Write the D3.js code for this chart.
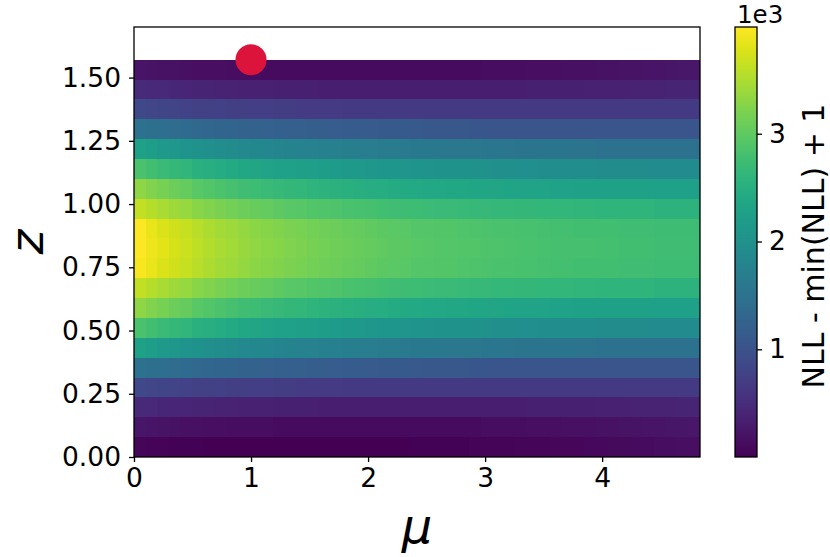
<!DOCTYPE html>
<html><head><meta charset="utf-8">
<script src="https://cdn.jsdelivr.net/npm/d3@7"></script>
<style>body{margin:0;background:#fff}svg{display:block}</style>
</head><body>
<svg id="chart" width="830" height="557"></svg>
<script>
// ---- data ----
const muMax = 4.836;            // right edge of the mu grid
const zMax = Math.PI / 2;       // top edge of the z grid
const nMu = 49;                 // number of mu bins
const nZ = 20;                  // number of z bins
const xTickValues = [0, 1, 2, 3, 4];
const yTickValues = [0, 0.25, 0.5, 0.75, 1.0, 1.25, 1.5];
const cbarTickValues = [1000, 2000, 3000];
const cbarMin = 1, cbarMax = 3990;
const truthMu = 1.0, truthZ = Math.PI / 2;

// NLL - min(NLL) + 1, one array per z bin (bottom to top), 49 mu bins each
const z00 = [48,40,33,27,22,17,13,10,7,5,3,2,1,1,1,2,3,4,5,7,9,11,13,15,18,21,24,27,30,34,38,42,46,51,56,61,66,72,78,84,90,97,104,111,118,126,134,142,150];
const z01 = [220,205,192,180,170,161,153,146,140,135,131,127,124,121,119,117,115,114,113,112,112,112,112,113,114,115,117,119,121,124,127,130,134,138,142,147,152,157,163,169,175,182,189,196,204,212,220,229,238];
const z02 = [460,445,432,420,410,400,392,385,378,372,366,361,356,352,348,345,342,339,337,335,333,332,331,330,330,330,330,331,332,333,335,337,339,341,344,347,350,353,356,359,363,367,371,375,379,383,388,393,398];
const z03 = [860,840,820,805,790,775,765,755,745,735,728,720,713,707,702,697,692,688,684,680,677,674,671,668,666,664,662,660,659,658,657,656,656,656,657,658,659,660,662,664,666,668,670,672,674,676,678,680,682];
const z04 = [1500,1460,1430,1400,1380,1340,1320,1290,1280,1260,1240,1230,1210,1200,1190,1180,1170,1160,1150,1140,1130,1120,1110,1110,1100,1090,1090,1080,1080,1070,1070,1060,1060,1050,1050,1050,1040,1040,1040,1040,1030,1030,1030,1030,1030,1030,1030,1030,1030];
const z05 = [2280,2210,2160,2110,2070,2020,1980,1940,1920,1880,1860,1830,1810,1790,1770,1750,1730,1720,1700,1680,1670,1650,1640,1630,1610,1610,1600,1590,1580,1580,1570,1560,1550,1540,1540,1540,1530,1530,1520,1520,1510,1510,1500,1500,1500,1500,1500,1500,1500];
const z06 = [2850,2780,2710,2660,2610,2540,2500,2450,2420,2380,2350,2320,2290,2260,2240,2220,2200,2180,2160,2140,2120,2100,2090,2080,2060,2050,2040,2030,2020,2010,2000,1990,1980,1970,1970,1960,1950,1950,1940,1940,1930,1930,1920,1920,1920,1910,1910,1910,1910];
const z07 = [3310,3230,3150,3090,3040,2960,2910,2860,2820,2770,2740,2710,2680,2640,2620,2590,2570,2550,2530,2510,2490,2470,2440,2430,2410,2400,2390,2380,2370,2360,2350,2340,2330,2320,2320,2310,2300,2300,2290,2290,2280,2280,2270,2270,2270,2250,2250,2250,2250];
const z08 = [3630,3550,3470,3410,3360,3280,3230,3180,3140,3090,3060,3030,3000,2960,2940,2910,2890,2870,2850,2830,2810,2790,2760,2750,2730,2720,2710,2700,2690,2680,2670,2660,2650,2640,2640,2630,2620,2620,2610,2610,2600,2600,2590,2590,2590,2570,2570,2570,2570];
const z09 = [3950,3850,3770,3700,3640,3560,3500,3440,3400,3340,3300,3270,3230,3200,3170,3140,3110,3090,3060,3040,3020,2990,2970,2960,2930,2920,2910,2900,2890,2870,2860,2850,2840,2830,2830,2810,2800,2800,2790,2790,2780,2780,2770,2770,2770,2750,2750,2750,2750];
const z10 = [3990,3890,3810,3730,3670,3590,3530,3470,3430,3370,3330,3300,3260,3220,3200,3160,3140,3110,3090,3070,3040,3020,2990,2980,2960,2940,2930,2920,2910,2900,2880,2870,2860,2850,2850,2830,2820,2820,2810,2810,2800,2800,2790,2790,2790,2770,2770,2770,2770];
const z11 = [3970,3850,3770,3700,3640,3560,3500,3440,3400,3340,3300,3270,3230,3200,3170,3140,3110,3090,3060,3040,3020,2990,2970,2960,2930,2920,2910,2900,2890,2870,2860,2850,2840,2830,2830,2810,2800,2800,2790,2790,2780,2780,2770,2770,2770,2750,2750,2750,2750];
const z12 = [3630,3550,3470,3410,3360,3280,3230,3180,3140,3090,3060,3030,3000,2960,2940,2910,2890,2870,2850,2830,2810,2790,2760,2750,2730,2720,2710,2700,2690,2680,2670,2660,2650,2640,2640,2630,2620,2620,2610,2610,2600,2600,2590,2590,2590,2570,2570,2570,2570];
const z13 = [3310,3230,3150,3090,3040,2960,2910,2860,2820,2770,2740,2710,2680,2640,2620,2590,2570,2550,2530,2510,2490,2470,2440,2430,2410,2400,2390,2380,2370,2360,2350,2340,2330,2320,2320,2310,2300,2300,2290,2290,2280,2280,2270,2270,2270,2250,2250,2250,2250];
const z14 = [2850,2780,2710,2660,2610,2540,2500,2450,2420,2380,2350,2320,2290,2260,2240,2220,2200,2180,2160,2140,2120,2100,2090,2080,2060,2050,2040,2030,2020,2010,2000,1990,1980,1970,1970,1960,1950,1950,1940,1940,1930,1930,1920,1920,1920,1910,1910,1910,1910];
const z15 = [2280,2210,2160,2110,2070,2020,1980,1940,1920,1880,1860,1830,1810,1790,1770,1750,1730,1720,1700,1680,1670,1650,1640,1630,1610,1610,1600,1590,1580,1580,1570,1560,1550,1540,1540,1540,1530,1530,1520,1520,1510,1510,1500,1500,1500,1500,1500,1500,1500];
const z16 = [1500,1460,1430,1400,1380,1340,1320,1290,1280,1260,1240,1230,1210,1200,1190,1180,1170,1160,1150,1140,1130,1120,1110,1110,1100,1090,1090,1080,1080,1070,1070,1060,1060,1050,1050,1050,1040,1040,1040,1040,1030,1030,1030,1030,1030,1030,1030,1030,1030];
const z17 = [860,840,820,805,790,775,765,755,745,735,728,720,713,707,702,697,692,688,684,680,677,674,671,668,666,664,662,660,659,658,657,656,656,656,657,658,659,660,662,664,666,668,670,672,674,676,678,680,682];
const z18 = [470,454,440,427,416,405,396,388,381,374,368,363,358,353,349,346,343,340,338,336,334,333,332,331,331,331,331,332,333,334,336,338,340,343,346,349,352,355,358,362,366,370,374,378,382,387,392,397,402];
const z19 = [210,196,184,173,164,156,149,143,137,132,128,124,121,119,117,115,114,113,112,112,112,112,113,114,115,116,118,120,122,125,128,131,135,139,144,149,154,160,166,172,179,186,193,201,209,217,226,235,245];
const nllRows = [z00,z01,z02,z03,z04,z05,z06,z07,z08,z09,z10,z11,z12,z13,z14,z15,z16,z17,z18,z19];

// ---- layout ----
const svg = d3.select("#chart");
const L = 134, R = 700, T = 27, B = 457;
const FONT = "DejaVu Sans";
const TICK_FS = 26.5;
const x = d3.scaleLinear().domain([0, muMax]).range([L, R]);
const y = d3.scaleLinear().domain([0, 1.70]).range([B, T]);
const color = d3.scaleSequential(d3.interpolateViridis).domain([cbarMin, cbarMax]);

const cells = [];
nllRows.forEach((row, i) => row.forEach((v, j) => cells.push({i, j, v})));
const dMu = muMax / nMu, dZ = zMax / nZ;

svg.append("g").attr("shape-rendering", "crispEdges")
  .selectAll("rect").data(cells).join("rect")
  .attr("x", d => x(d.j * dMu))
  .attr("width", d => x((d.j + 1) * dMu) - x(d.j * dMu))
  .attr("y", d => y((d.i + 1) * dZ))
  .attr("height", d => y(d.i * dZ) - y((d.i + 1) * dZ))
  .attr("fill", d => color(d.v));

// truth marker
svg.append("circle")
  .attr("cx", x(truthMu)).attr("cy", y(truthZ)).attr("r", 15.5)
  .attr("fill", "#dc143c");

// frame
svg.append("rect").attr("x", L).attr("y", T).attr("width", R - L).attr("height", B - T)
  .attr("fill", "none").attr("stroke", "#000").attr("stroke-width", 1.3);

function styleAxis(g) {
  g.select(".domain").remove();
  g.selectAll(".tick line").attr("stroke", "#000").attr("stroke-width", 1.3);
  g.selectAll(".tick text").attr("font-family", FONT).attr("font-size", TICK_FS).attr("fill", "#000");
}

svg.append("g").attr("transform", `translate(0,${B})`)
  .call(d3.axisBottom(x).tickValues(xTickValues).tickFormat(d3.format("d")).tickSize(5).tickPadding(6))
  .call(styleAxis);

svg.append("g").attr("transform", `translate(${L},0)`)
  .call(d3.axisLeft(y).tickValues(yTickValues).tickFormat(d3.format(".2f")).tickSize(5).tickPadding(8))
  .call(styleAxis);

// axis labels
svg.append("text").attr("x", 417).attr("y", 543).attr("text-anchor", "middle")
  .attr("font-family", FONT).attr("font-style", "italic").attr("font-size", 48).text("μ");
svg.append("text").attr("transform", "translate(43,242) rotate(-90)").attr("text-anchor", "middle")
  .attr("font-family", FONT).attr("font-style", "italic").attr("font-size", 47).text("z");

// colorbar
const CBX = 735, CBW = 22;
const cy = d3.scaleLinear().domain([cbarMin, cbarMax]).range([B, T]);
const defs = svg.append("defs");
const grad = defs.append("linearGradient").attr("id", "cbgrad")
  .attr("x1", 0).attr("y1", 1).attr("x2", 0).attr("y2", 0);
d3.range(0, 1.0001, 0.05).forEach(t => grad.append("stop")
  .attr("offset", t).attr("stop-color", d3.interpolateViridis(t)));
svg.append("rect").attr("x", CBX).attr("y", T).attr("width", CBW).attr("height", B - T)
  .attr("fill", "url(#cbgrad)").attr("stroke", "#000").attr("stroke-width", 1.3);
svg.append("g").attr("transform", `translate(${CBX + CBW},0)`)
  .call(d3.axisRight(cy).tickValues(cbarTickValues).tickFormat(d => d / 1000).tickSize(5).tickPadding(7))
  .call(styleAxis);
svg.append("text").attr("x", 737).attr("y", 23).attr("font-family", FONT).attr("font-size", 24.5).text("1e3");
svg.append("text").attr("transform", "translate(824,246) rotate(-90)").attr("text-anchor", "middle")
  .attr("font-family", FONT).attr("font-size", 30).text("NLL - min(NLL) + 1");
</script>
</body></html>
